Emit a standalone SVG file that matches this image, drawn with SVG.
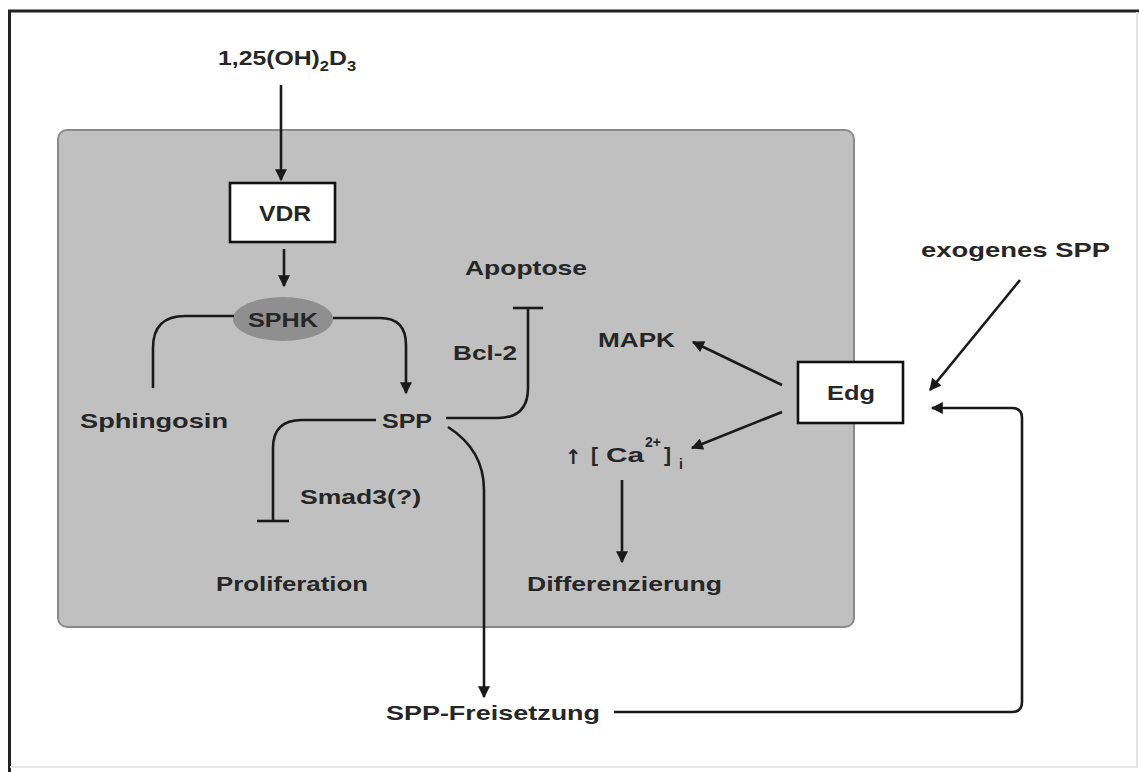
<svg xmlns="http://www.w3.org/2000/svg" width="1139" height="772" viewBox="0 0 1139 772">
<defs>
<marker id="arr" viewBox="0 0 10 10" refX="9" refY="5" markerUnits="userSpaceOnUse" markerWidth="15" markerHeight="12" orient="auto">
<path d="M0,0 L10,5 L0,10 z" fill="#1a1a1a"/>
</marker>
</defs>
<style>
text{font-family:"Liberation Sans",Arial,sans-serif;font-weight:bold;fill:#262626;font-size:21px}
text.sup{font-size:14px}
text.up{font-family:"DejaVu Sans",sans-serif;font-size:20px}
text.big{font-size:22px}
.c{fill:none;stroke:#1a1a1a;stroke-width:2.6;stroke-linecap:butt}
.box{fill:#fff;stroke:#111;stroke-width:2.6}
</style>
<rect width="1139" height="772" fill="#fff"/>
<line x1="9.5" y1="10" x2="9.5" y2="772" stroke="#222" stroke-width="3"/>
<line x1="8" y1="11" x2="1139" y2="11" stroke="#222" stroke-width="3"/>
<line x1="1137" y1="12" x2="1137" y2="768" stroke="#e4e4e4" stroke-width="2"/>
<line x1="10" y1="767" x2="1137" y2="767" stroke="#e8e8e8" stroke-width="2"/>
<g id="cell"><rect x="58" y="130" width="796" height="497" rx="9" fill="#c0c0c0" stroke="#8a8a8a" stroke-width="2"/></g>

<g id="d3"><text transform="translate(218,65) scale(1.18,1)">1,25(OH)<tspan font-size="14" dy="6">2</tspan><tspan dy="-6">D</tspan><tspan font-size="14" dy="6">3</tspan></text></g>
<g id="vdr"><rect class="box" x="230" y="183" width="105" height="59"/><text class="big" x="259" y="221" textLength="52" lengthAdjust="spacingAndGlyphs">VDR</text></g>
<g id="sphk"><ellipse cx="283" cy="319" rx="50" ry="22" fill="#8f8f8f"/><text x="248" y="327" textLength="70" lengthAdjust="spacingAndGlyphs">SPHK</text></g>
<g id="sphingosin"><text x="80" y="428" textLength="148" lengthAdjust="spacingAndGlyphs">Sphingosin</text></g>
<g id="spp"><text x="382" y="428" textLength="50" lengthAdjust="spacingAndGlyphs">SPP</text></g>
<g id="apoptose"><text x="465" y="275" textLength="122" lengthAdjust="spacingAndGlyphs">Apoptose</text></g>
<g id="bcl2"><text x="453" y="360" textLength="64" lengthAdjust="spacingAndGlyphs">Bcl-2</text></g>
<g id="mapk"><text x="598" y="347" textLength="77" lengthAdjust="spacingAndGlyphs">MAPK</text></g>
<g id="edg"><rect class="box" x="798" y="362" width="105" height="61"/><text x="827" y="400" textLength="48" lengthAdjust="spacingAndGlyphs">Edg</text></g>
<g id="exogen"><text x="921" y="257" textLength="189" lengthAdjust="spacingAndGlyphs">exogenes SPP</text></g>
<g id="smad"><text x="300" y="504" textLength="121" lengthAdjust="spacingAndGlyphs">Smad3(?)</text></g>
<g id="prolif"><text x="216" y="591" textLength="152" lengthAdjust="spacingAndGlyphs">Proliferation</text></g>
<g id="diff"><text x="527" y="591" textLength="195" lengthAdjust="spacingAndGlyphs">Differenzierung</text></g>
<g id="freis"><text x="386" y="720" textLength="214" lengthAdjust="spacingAndGlyphs">SPP-Freisetzung</text></g>
<g id="ca"><text class="up" x="565" y="464">↑</text><text x="591" y="462">[</text><text x="606" y="462" textLength="38" lengthAdjust="spacingAndGlyphs">Ca</text><text class="sup" x="645" y="447">2+</text><text x="664" y="462">]</text><text class="sup" x="679" y="469">i</text></g>

<g id="connectors">
<path class="c" d="M281,85 V180" marker-end="url(#arr)"/>
<path class="c" d="M284,249 V286" marker-end="url(#arr)"/>
<path class="c" d="M234,316 H185 Q153,316 153,348 V388"/>
<path class="c" d="M333,318 H380 Q406,318 406,345 V393" marker-end="url(#arr)"/>
<path class="c" d="M376,420 H302 Q273,420 273,448 V521"/>
<path class="c" d="M257,521 H289"/>
<path class="c" d="M446,418 H498 Q528,418 528,388 V308"/>
<path class="c" d="M513,308 H543"/>
<path class="c" d="M448,427 Q484,450 484,490 V697" marker-end="url(#arr)"/>
<path class="c" d="M782,385 L693,342" marker-end="url(#arr)"/>
<path class="c" d="M782,412 L692,448" marker-end="url(#arr)"/>
<path class="c" d="M1020,280 L930,390" marker-end="url(#arr)"/>
<path class="c" d="M622,480 V562" marker-end="url(#arr)"/>
<path class="c" d="M614,712 H1012 Q1022,712 1022,702 V418 Q1022,408 1012,408 H932" marker-end="url(#arr)"/>
</g>
</svg>
